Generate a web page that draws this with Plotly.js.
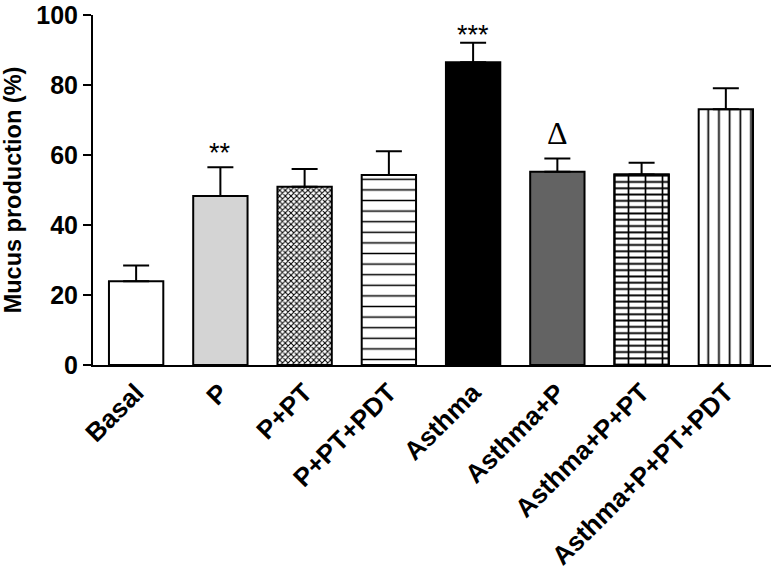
<!DOCTYPE html>
<html>
<head>
<meta charset="utf-8">
<script src="https://cdn.plot.ly/plotly-3.0.1.min.js"></script>
<style>html,body{margin:0;padding:0;background:#fff;}#chart{width:773px;height:577px;}</style>
</head>
<body>
<div id="chart"></div>
<script>
const categories = ['Basal','P','P+PT','P+PT+PDT','Asthma','Asthma+P','Asthma+P+PT','Asthma+P+PT+PDT'];
const means = [23.9, 48.3, 50.9, 54.3, 86.5, 55.2, 54.4, 73.1];
const sem = [4.5, 8.2, 5.1, 6.8, 5.6, 3.8, 3.4, 6.0];
const sigLabels = ['', '**', '', '', '***', '\u0394', '', ''];
const sigY = [0, 62.4, 0, 0, 96.0, 66.3, 0, 0];

// styles
const fillColors = ['#ffffff','#d4d4d4','#ffffff','#ffffff','#000000','#636363','#ffffff','#ffffff'];
const patShapes = ['', '', 'x', '-', '', '', '-', '|'];
const patSizes = [8, 8, 4, 10.6, 8, 8, 6.3, 10.7];
const patSolidity = [0.3, 0.3, 0.45, 0.14, 0.3, 0.3, 0.3, 0.16];
const overlayShapes = ['', '', '', '', '', '', '|', ''];

const FONT = '"Liberation Sans", Arial, Helvetica, sans-serif';
const BAR_W = 0.645;

const traces = [];
categories.forEach((c, i) => {
  const marker = {color: fillColors[i], line: {color: '#000', width: 2}};
  if (patShapes[i]) {
    marker.pattern = {shape: patShapes[i], size: patSizes[i], solidity: patSolidity[i],
                      fgcolor: '#000', bgcolor: fillColors[i], fillmode: 'replace'};
  }
  traces.push({
    type: 'bar', x: [c], y: [means[i]], width: BAR_W,
    marker: marker,
    error_y: {type: 'data', symmetric: false, array: [sem[i]], arrayminus: [0],
              color: '#000', thickness: 2, width: 13},
    showlegend: false
  });
  if (overlayShapes[i]) {
    traces.push({
      type: 'bar', x: [c], y: [means[i]], width: BAR_W,
      marker: {color: 'rgba(255,255,255,0)', line: {color: '#000', width: 2},
               pattern: {shape: overlayShapes[i], size: 17, solidity: 0.1,
                         fgcolor: '#000', bgcolor: 'rgba(255,255,255,0)', fillmode: 'replace'}},
      hoverinfo: 'skip', showlegend: false
    });
  }
});

const annotations = [];
categories.forEach((c, i) => {
  if (!sigLabels[i]) return;
  const isDelta = sigLabels[i] === '\u0394';
  annotations.push({
    x: c, y: sigY[i], xref: 'x', yref: 'y',
    text: sigLabels[i], showarrow: false, yanchor: 'middle',
    yshift: isDelta ? 0 : -6,
    font: {family: isDelta ? '"Liberation Serif", "DejaVu Serif", serif' : FONT,
           size: isDelta ? 32 : 27, color: '#000'}
  });
});

const layout = {
  width: 773, height: 577,
  margin: {l: 93, r: 2, t: 15, b: 212},
  paper_bgcolor: '#fff', plot_bgcolor: '#fff',
  barmode: 'overlay',
  font: {family: FONT, color: '#000'},
  xaxis: {
    type: 'category', range: [-0.512, 7.536],
    showline: true, linecolor: '#000', linewidth: 2,
    ticks: '', showgrid: false, zeroline: false,
    tickangle: -45,
    tickfont: {family: FONT, size: 26, weight: 'bold', color: '#000'}
  },
  yaxis: {
    range: [0, 100], dtick: 20,
    showline: true, linecolor: '#000', linewidth: 2,
    ticks: 'outside', ticklen: 8, tickwidth: 2, tickcolor: '#000',
    ticklabeloverflow: 'allow',
    showgrid: false, zeroline: false,
    tickfont: {family: FONT, size: 25, weight: 'bold', color: '#000'},
    title: {text: 'Mucus production (%)',
            font: {family: FONT, size: 23.5, weight: 'bold', color: '#000'}, standoff: 10}
  },
  annotations: annotations
};

Plotly.newPlot('chart', traces, layout, {displayModeBar: false, staticPlot: true});
</script>
</body>
</html>
